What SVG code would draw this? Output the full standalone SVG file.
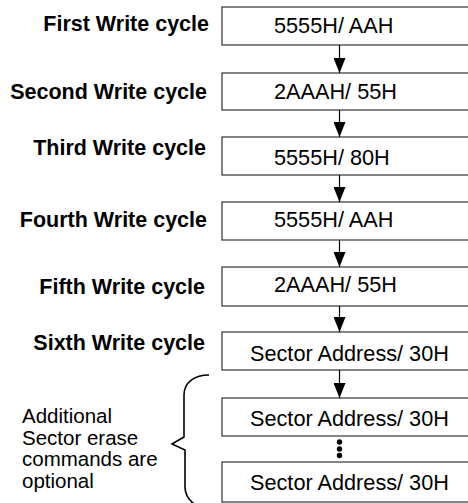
<svg xmlns="http://www.w3.org/2000/svg" width="468" height="503" viewBox="0 0 468 503">
<style>
.box{fill:#fff;stroke:#333;stroke-width:1.2}
.lbl{font-family:"Liberation Sans",Arial,sans-serif;font-weight:bold;font-size:21.5px;fill:#000;text-anchor:end}
.txt{font-family:"Liberation Sans",Arial,sans-serif;font-size:21.7px;fill:#000}
.note{font-family:"Liberation Sans",Arial,sans-serif;font-size:20.5px;fill:#000}
.conn line{stroke:#000;stroke-width:1.2}
</style>
<defs>
<marker id="ah" viewBox="0 0 15 12" refX="15" refY="6" markerWidth="15" markerHeight="12" markerUnits="userSpaceOnUse" orient="auto">
<path d="M0,0 L15,6 L0,12 Z" fill="#000"/>
</marker>
</defs>
<rect width="468" height="503" fill="#fff"/>
<g id="n1"><text class="lbl" x="209" y="31">First Write cycle</text><rect class="box" x="222" y="7" width="260" height="38"/><text class="txt" x="274" y="33">5555H/ AAH</text></g>
<g id="n2"><text class="lbl" x="207" y="99">Second Write cycle</text><rect class="box" x="222" y="73" width="260" height="37"/><text class="txt" x="274" y="99">2AAAH/ 55H</text></g>
<g id="n3"><text class="lbl" x="206" y="155">Third Write cycle</text><rect class="box" x="222" y="137" width="260" height="38"/><text class="txt" x="274" y="165">5555H/ 80H</text></g>
<g id="n4"><text class="lbl" x="207" y="227">Fourth Write cycle</text><rect class="box" x="222" y="202" width="260" height="38"/><text class="txt" x="274" y="227">5555H/ AAH</text></g>
<g id="n5"><text class="lbl" x="205" y="294">Fifth Write cycle</text><rect class="box" x="222" y="267" width="260" height="39"/><text class="txt" x="274" y="292">2AAAH/ 55H</text></g>
<g id="n6"><text class="lbl" x="205" y="350">Sixth Write cycle</text><rect class="box" x="222" y="332" width="260" height="38"/><text class="txt" x="250" y="361">Sector Address/ 30H</text></g>
<g id="n7"><rect class="box" x="222" y="398" width="260" height="38"/><text class="txt" x="250" y="426">Sector Address/ 30H</text></g>
<g id="n8"><rect class="box" x="222" y="462" width="260" height="40"/><text class="txt" x="250" y="490">Sector Address/ 30H</text></g>
<g id="note">
<path d="M209,375 C195,375 184,382 184,395 L184,437 L172,444 L185,450 L185,487 C185,495 189,500 194,504" fill="none" stroke="#000" stroke-width="1.6"/>
<text class="note" x="22" y="423">Additional</text>
<text class="note" x="22" y="444.5">Sector erase</text>
<text class="note" x="22" y="466">commands are</text>
<text class="note" x="22" y="487.5">optional</text>
</g>
<g class="conn" id="connectors">
<line x1="339.5" y1="45" x2="339.5" y2="73" marker-end="url(#ah)"/>
<line x1="339.5" y1="110" x2="339.5" y2="137" marker-end="url(#ah)"/>
<line x1="339.5" y1="175" x2="339.5" y2="202" marker-end="url(#ah)"/>
<line x1="339.5" y1="240" x2="339.5" y2="267" marker-end="url(#ah)"/>
<line x1="339.5" y1="306" x2="339.5" y2="332" marker-end="url(#ah)"/>
<line x1="339.5" y1="370" x2="339.5" y2="398" marker-end="url(#ah)"/>
<circle cx="339.5" cy="442" r="2.7" fill="#000"/>
<circle cx="339.5" cy="449" r="2.7" fill="#000"/>
<circle cx="339.5" cy="455.5" r="2.7" fill="#000"/>
</g>
</svg>
